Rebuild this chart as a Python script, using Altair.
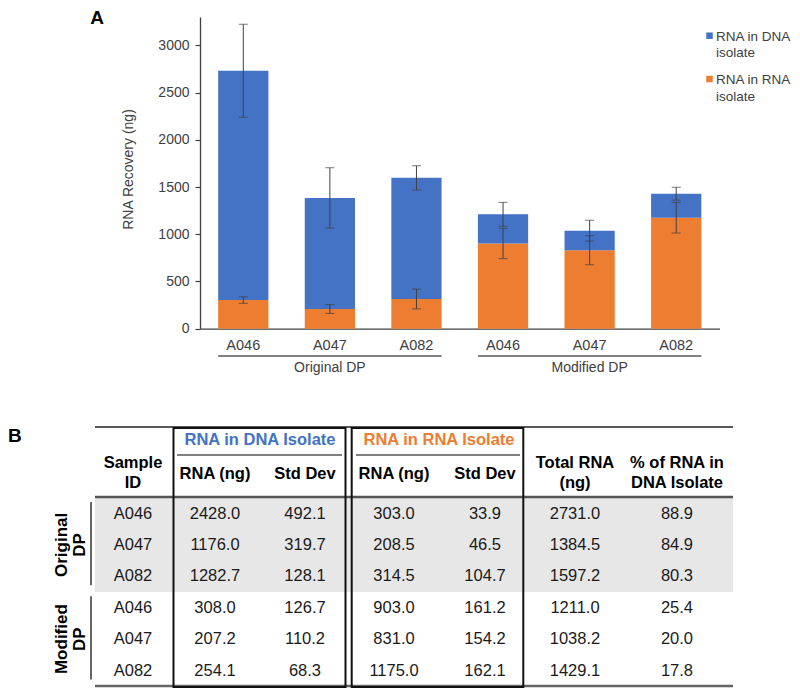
import altair as alt
import pandas as pd

# ---------------- data ----------------
groups = ["Original DP", "Original DP", "Original DP", "Modified DP", "Modified DP", "Modified DP"]
samples = ["A046", "A047", "A082", "A046", "A047", "A082"]
dna_ng = [2428.0, 1176.0, 1282.7, 308.0, 207.2, 254.1]
dna_sd = [492.1, 319.7, 128.1, 126.7, 110.2, 68.3]
rna_ng = [303.0, 208.5, 314.5, 903.0, 831.0, 1175.0]
rna_sd = [33.9, 46.5, 104.7, 161.2, 154.2, 162.1]
total_ng = [2731.0, 1384.5, 1597.2, 1211.0, 1038.2, 1429.1]
pct_dna = [88.9, 84.9, 80.3, 25.4, 20.0, 17.8]

group_names = ["Original DP", "Modified DP"]
series = ["RNA in DNA isolate", "RNA in RNA isolate"]
series_colors = ["#4472C4", "#ED7D31"]
y_ticks = [0, 500, 1000, 1500, 2000, 2500, 3000]
y_title = "RNA Recovery (ng)"
panel_labels = ["A", "B"]
header_top = ["RNA in DNA Isolate", "RNA in RNA Isolate"]
col_headers = ["Sample\nID", "RNA (ng)", "Std Dev", "RNA (ng)", "Std Dev", "Total RNA\n(ng)", "% of RNA in\nDNA Isolate"]

# ---------------- layout (page pixels) ----------------
M = 8
def P(v):
    return v - M

W, H = 784, 682
X0, X1 = 200, 719.5
Y0, YTOP = 328.7, 17
YMAX = 3300
FONT = "Liberation Sans"
AX = "#404040"
ERR = "#404040"

keys = [f"{g}|{s}" for g, s in zip(groups, samples)]

# ---------------- tables built from arrays ----------------
bar_rows = []
for k, r, d in zip(keys, rna_ng, dna_ng):
    bar_rows.append({"key": k, "series": series[1], "value": r, "stk": 0})
    bar_rows.append({"key": k, "series": series[0], "value": d, "stk": 1})
bar_df = pd.DataFrame(bar_rows)

err_rows = []
for k, r, rs, d, ds in zip(keys, rna_ng, rna_sd, dna_ng, dna_sd):
    err_rows.append({"key": k, "lo": r - rs, "hi": r + rs})
    tot = r + d
    err_rows.append({"key": k, "lo": tot - ds, "hi": tot + ds})
err_df = pd.DataFrame(err_rows)

grp_df = pd.DataFrame({
    "group": group_names,
    "first": [keys[0], keys[3]],
    "mid": [keys[1], keys[4]],
    "last": [keys[2], keys[5]],
})

xscale = alt.Scale(domain=keys, range=[P(X0), P(X1)], paddingInner=0.42, paddingOuter=0.21)
yscale = alt.Scale(domain=[0, YMAX], range=[P(Y0), P(YTOP)], nice=False, zero=True)

xaxis = alt.Axis(orient="bottom", offset=P(Y0) - H, title=None, ticks=False, tickSize=0,
                 labelPadding=10, labelExpr="split(datum.label, '|')[1]", labelAngle=0,
                 labelFontSize=14.5, labelColor=AX, labelFont=FONT,
                 domainColor=AX, domainWidth=1.3, grid=False)
yaxis = alt.Axis(orient="left", offset=-P(X0), values=y_ticks, format="d", title=y_title,
                 titleX=-71.5, titleY=P(169), titleBaseline="middle", titleAngle=270,
                 titleFontSize=14, titleFontWeight="normal", titleColor=AX, titleFont=FONT,
                 tickSize=5, tickColor=AX, tickWidth=1.2, labelPadding=6, labelFontSize=14,
                 labelColor=AX, labelFont=FONT, domainColor=AX, domainWidth=1.3, grid=False)

color_scale = alt.Scale(domain=series, range=series_colors)

bars = alt.Chart(bar_df).mark_bar().encode(
    x=alt.X("key:N", scale=xscale, axis=xaxis),
    y=alt.Y("value:Q", stack="zero", scale=yscale, axis=yaxis),
    color=alt.Color("series:N", scale=color_scale, legend=None),
    order=alt.Order("stk:Q", sort="ascending"),
)
err_rule = alt.Chart(err_df).mark_rule(color=ERR, strokeWidth=1).encode(
    x=alt.X("key:N", scale=xscale, axis=xaxis),
    y=alt.Y("lo:Q", scale=yscale, axis=yaxis),
    y2="hi:Q",
)
cap_lo = alt.Chart(err_df).mark_tick(color=ERR, size=9, thickness=1, orient="horizontal").encode(
    x=alt.X("key:N", scale=xscale, axis=xaxis),
    y=alt.Y("lo:Q", scale=yscale, axis=yaxis),
)
cap_hi = alt.Chart(err_df).mark_tick(color=ERR, size=9, thickness=1, orient="horizontal").encode(
    x=alt.X("key:N", scale=xscale, axis=xaxis),
    y=alt.Y("hi:Q", scale=yscale, axis=yaxis),
)
grp_line = alt.Chart(grp_df).mark_rule(color="#595959", strokeWidth=1.5).encode(
    x=alt.X("first:N", scale=xscale, axis=xaxis, bandPosition=0),
    x2=alt.X2("last:N", bandPosition=1),
    y=alt.value(P(356)),
)
grp_text = alt.Chart(grp_df).mark_text(fontSize=14, font=FONT, color=AX, baseline="middle").encode(
    x=alt.X("mid:N", scale=xscale, axis=xaxis),
    y=alt.value(P(368)),
    text="group:N",
)
chart_a = alt.layer(bars, err_rule, cap_lo, cap_hi, grp_line, grp_text)

# legend
leg_df = pd.DataFrame({"series": series})
leg_y = alt.Y("series:N", scale=alt.Scale(type="point", domain=series, range=[P(35.7), P(79)], padding=0), axis=None)
leg_sq = alt.Chart(leg_df).mark_square(size=42, opacity=1).encode(
    x=alt.value(P(709.5)), y=leg_y,
    color=alt.Color("series:N", scale=color_scale, legend=None),
)
leg_tx = alt.Chart(leg_df).transform_calculate(
    lab="replace(datum.series, ' isolate', '\\nisolate')"
).mark_text(align="left", baseline="alphabetic", dy=5, lineBreak="\n", lineHeight=16.5,
            fontSize=13.5, font=FONT, color=AX).encode(
    x=alt.value(P(716)), y=leg_y, text="lab:N",
)
legend = alt.layer(leg_sq, leg_tx)

one = pd.DataFrame({"_": [0]})
lab_a = alt.Chart(one).mark_text(fontSize=19, fontWeight="bold", font=FONT, color="black",
                                 baseline="alphabetic").encode(
    x=alt.value(P(97)), y=alt.value(P(23.5)), text=alt.value(panel_labels[0]))
lab_b = alt.Chart(one).mark_text(fontSize=19, fontWeight="bold", font=FONT, color="black",
                                 baseline="alphabetic", align="left").encode(
    x=alt.value(P(8)), y=alt.value(P(442)), text=alt.value(panel_labels[1]))

# ---------------- table ----------------
TL, TR = 95, 733
table_df = pd.DataFrame({
    "row": list(range(6)), "group": groups, "sample": samples,
    "dna": dna_ng, "dna_sd": dna_sd, "rna": rna_ng, "rna_sd": rna_sd,
    "total": total_ng, "pct": pct_dna,
})
rowscale = alt.Scale(domain=[0, 5], range=[P(513.5), P(670.5)], nice=False, zero=False)
rowy = lambda f: alt.Y(f, scale=rowscale, axis=None)

def rect(x1, x2, y1, y2, **kw):
    return alt.Chart(one).mark_rect(**kw).encode(
        x=alt.value(P(x1)), x2=alt.value(P(x2)), y=alt.value(P(y1)), y2=alt.value(P(y2)))

def hrule(x1, x2, y, color, w):
    return alt.Chart(one).mark_rule(color=color, strokeWidth=w).encode(
        x=alt.value(P(x1)), x2=alt.value(P(x2)), y=alt.value(P(y)))

tbl = []
tbl.append(rect(TL, TR, 497, 592, color="#e7e7e7"))
tbl.append(hrule(TL, TR, 427, "#222222", 1.5))
tbl.append(hrule(TL, TR, 497, "#555555", 2.5))
tbl.append(hrule(TL, TR, 686, "#666666", 2.5))
tbl.append(hrule(177, 342, 455, "#555555", 1.5))
tbl.append(hrule(356, 520, 455, "#555555", 1.5))
tbl.append(rect(173.5, 345.5, 428, 687, filled=False, stroke="#111111", strokeWidth=2))
tbl.append(rect(351.7, 523.3, 428, 687, filled=False, stroke="#111111", strokeWidth=2))

# group bars and labels on the left
gdf = pd.DataFrame({"group": group_names, "first": [0, 3], "mid": [1, 4], "last": [2, 5]})
tbl.append(alt.Chart(gdf).mark_rule(color="#333333", strokeWidth=1.5, yOffset=-11.5, y2Offset=9).encode(
    x=alt.value(P(91)), y=rowy("first:Q"), y2="last:Q"))
tbl.append(alt.Chart(gdf).mark_text(angle=270, lineBreak=" ", lineHeight=18, fontSize=17,
                                    fontWeight="bold", font=FONT, color="black",
                                    baseline="middle", align="center").encode(
    x=alt.value(P(62)), y=rowy("mid:Q"), text="group:N"))

# top header (colored)
for txt, cx, col in zip(header_top, [260, 439], series_colors):
    tbl.append(alt.Chart(one).mark_text(fontSize=16.5, fontWeight="bold", font=FONT, color=col,
                                        baseline="middle").encode(
        x=alt.value(P(cx)), y=alt.value(P(440)), text=alt.value(txt)))

col_x = [133, 215, 305, 394, 485, 575, 677]
for txt, cx in zip(col_headers, col_x):
    ty = 463 if "\n" in txt else 474
    tbl.append(alt.Chart(one).mark_text(fontSize=16.5, fontWeight="bold", font=FONT, color="black",
                                        baseline="middle", lineBreak="\n", lineHeight=20).encode(
        x=alt.value(P(cx)), y=alt.value(P(ty)), text=alt.value(txt)))

fields = ["sample", "dna", "dna_sd", "rna", "rna_sd", "total", "pct"]
for f, cx in zip(fields, col_x):
    txt = alt.Text("sample:N") if f == "sample" else alt.Text(f"{f}:Q", format=".1f")
    tbl.append(alt.Chart(table_df).mark_text(fontSize=16.5, font=FONT, color="#1a1a1a",
                                             baseline="middle").encode(
        x=alt.value(P(cx)), y=rowy("row:Q"), text=txt))

chart = alt.layer(chart_a, legend, lab_a, lab_b, *tbl).resolve_scale(
    x="independent", y="independent", color="independent"
).properties(
    width=W, height=H, padding=0, autosize=alt.AutoSizeParams(type="none")
).configure_view(stroke=None)

chart.save("out.html", embed_options={"renderer": "svg", "actions": False})
